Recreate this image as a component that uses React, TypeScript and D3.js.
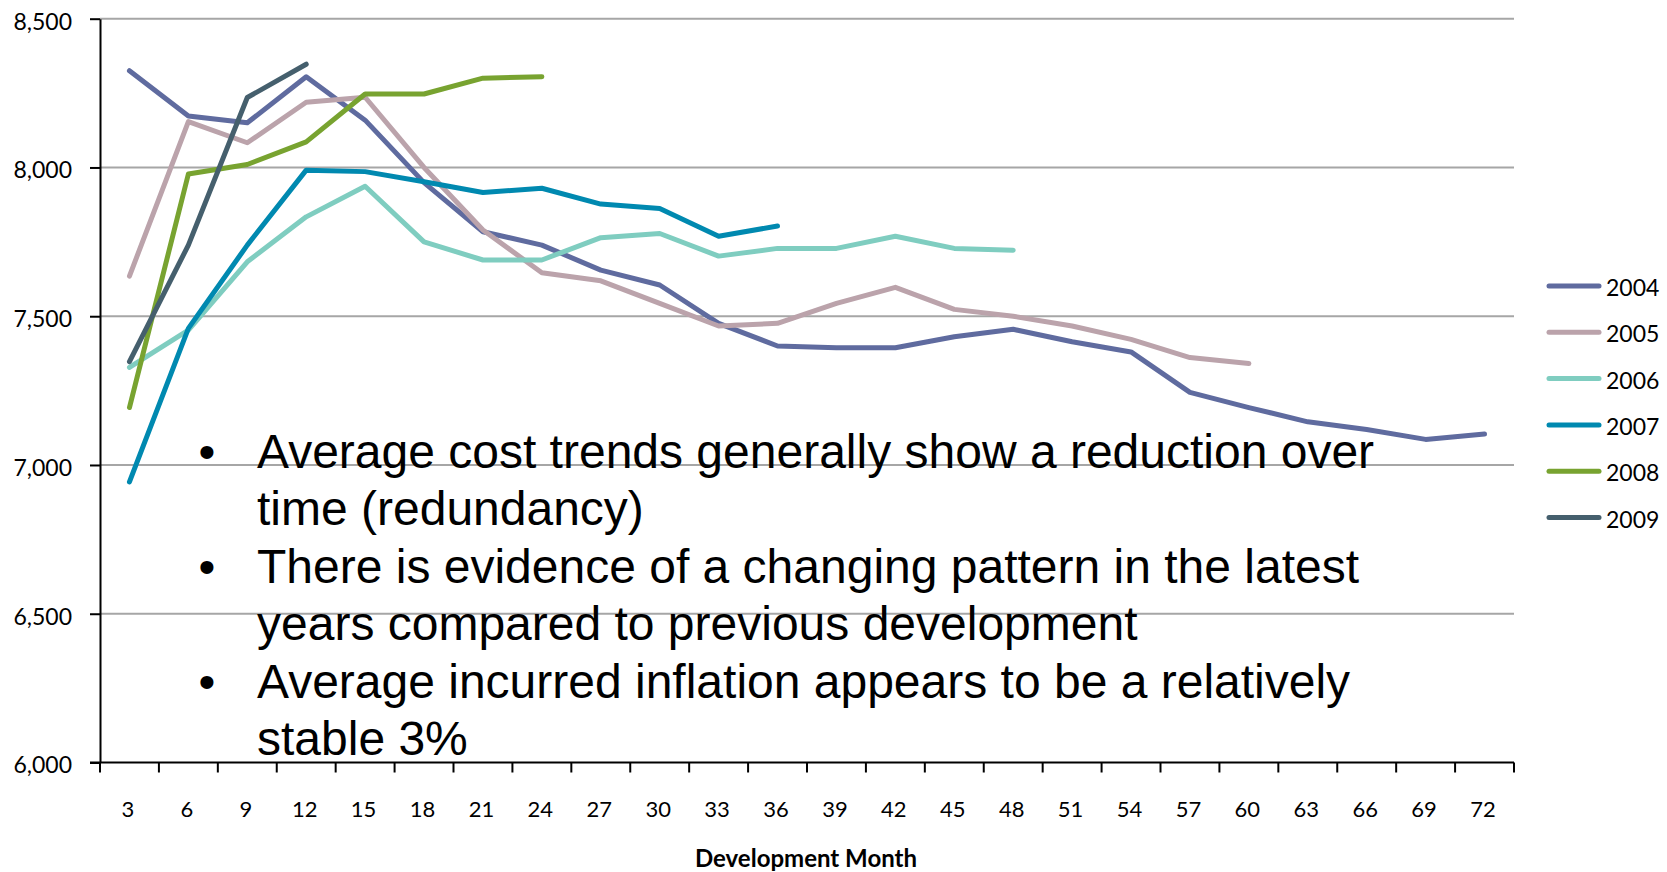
import React, { useEffect, useRef } from 'react';
import * as d3 from 'd3';

// development months on the x axis
const months = [3, 6, 9, 12, 15, 18, 21, 24, 27, 30, 33, 36, 39, 42, 45, 48, 51, 54, 57, 60, 63, 66, 69, 72];
const yTicks = [6000, 6500, 7000, 7500, 8000, 8500];

const years = ['2004', '2005', '2006', '2007', '2008', '2009'];
const colors = ['#5F6B9F', '#BBA3AB', '#7FCDC0', '#0089B0', '#78A330', '#455F6D'];

const v2004 = [8325, 8173, 8150, 8305, 8159, 7949, 7784, 7739, 7655, 7605, 7476, 7400, 7394, 7394, 7431, 7456, 7414, 7380, 7244, 7193, 7145, 7119, 7086, 7104];
const v2005 = [7635, 8154, 8083, 8219, 8236, 8000, 7790, 7646, 7619, 7543, 7467, 7476, 7543, 7597, 7523, 7500, 7467, 7422, 7361, 7341];
const v2006 = [7328, 7453, 7683, 7834, 7937, 7750, 7689, 7689, 7764, 7778, 7702, 7728, 7728, 7769, 7728, 7722];
const v2007 = [6943, 7459, 7739, 7991, 7986, 7952, 7916, 7930, 7877, 7862, 7769, 7803];
const v2008 = [7193, 7978, 8010, 8086, 8247, 8247, 8300, 8305];
const v2009 = [7347, 7739, 8235, 8347];

const seriesValues = [v2004, v2005, v2006, v2007, v2008, v2009];

const noteLines = [
  'Average cost trends generally show a reduction over',
  'time (redundancy)',
  'There is evidence of a changing pattern in the latest',
  'years compared to previous development',
  'Average incurred inflation appears to be a relatively',
  'stable 3%',
];
const noteBullets = [true, false, true, false, true, false];

const App: React.FC = () => {
  const svgRef = useRef<SVGSVGElement>(null);

  useEffect(() => {
    if (!svgRef.current) return;
    const svg = d3.select(svgRef.current);
    svg.selectAll('*').remove();

    const width = 1667;
    const height = 872;
    const plot = { left: 100, right: 1514, top: 18.7, bottom: 762.5 };
    const labelFont = 'Lato, "Open Sans", sans-serif';

    svg.attr('width', width).attr('height', height);

    const x = d3
      .scaleBand<number>()
      .domain(months)
      .range([plot.left, plot.right]);

    const y = d3
      .scaleLinear()
      .domain([6000, 8500])
      .range([plot.bottom, plot.top]);

    // gridlines
    svg
      .append('g')
      .selectAll('line')
      .data(yTicks.slice(1))
      .enter()
      .append('line')
      .attr('x1', plot.left)
      .attr('x2', plot.right)
      .attr('y1', d => y(d))
      .attr('y2', d => y(d))
      .attr('stroke', '#A6A6A6')
      .attr('stroke-width', 2);

    // y axis
    const yAxis = svg
      .append('g')
      .attr('transform', `translate(${plot.left},0)`)
      .call(
        d3
          .axisLeft(y)
          .tickValues(yTicks)
          .tickFormat(d3.format(','))
          .tickSize(10)
          .tickPadding(18)
          .tickSizeOuter(0)
      );
    yAxis.select('.domain').attr('stroke', '#000').attr('stroke-width', 2);
    yAxis.selectAll('.tick line').attr('stroke', '#000').attr('stroke-width', 2);
    yAxis
      .selectAll('.tick text')
      .attr('dy', '0.45em')
      .style('font-family', labelFont)
      .style('font-size', '23px')
      .attr('fill', '#000');

    // x axis line and ticks at band edges
    const xAxis = svg.append('g');
    xAxis
      .append('line')
      .attr('x1', plot.left - 10)
      .attr('x2', plot.right)
      .attr('y1', y(6000))
      .attr('y2', y(6000))
      .attr('stroke', '#000')
      .attr('stroke-width', 2);
    const edges = months.map(m => x(m) ?? 0).concat([plot.right]);
    xAxis
      .selectAll('line.tick')
      .data(edges)
      .enter()
      .append('line')
      .attr('class', 'tick')
      .attr('x1', d => d)
      .attr('x2', d => d)
      .attr('y1', y(6000))
      .attr('y2', y(6000) + 10)
      .attr('stroke', '#000')
      .attr('stroke-width', 2);
    xAxis
      .selectAll('text')
      .data(months)
      .enter()
      .append('text')
      .attr('x', d => (x(d) ?? 0) + x.bandwidth() / 2 - 1.5)
      .attr('y', 817)
      .attr('text-anchor', 'middle')
      .style('font-family', labelFont)
      .style('font-size', '22px')
      .attr('fill', '#000')
      .text(d => String(d));

    svg
      .append('text')
      .attr('x', 806)
      .attr('y', 867)
      .attr('text-anchor', 'middle')
      .style('font-family', labelFont)
      .style('font-size', '24px')
      .style('font-weight', 'bold')
      .attr('fill', '#000')
      .text('Development Month');

    // series lines, 2004 first so later years sit on top
    const line = d3
      .line<number>()
      .x((_, i) => (x(months[i]) ?? 0) + x.bandwidth() / 2)
      .y(d => y(d));

    svg
      .append('g')
      .selectAll('path')
      .data(seriesValues)
      .enter()
      .append('path')
      .attr('d', d => line(d) ?? '')
      .attr('fill', 'none')
      .attr('stroke', (_, i) => colors[i])
      .attr('stroke-width', 5)
      .attr('stroke-linejoin', 'round')
      .attr('stroke-linecap', 'round');

    // legend
    const legend = svg
      .append('g')
      .selectAll('g')
      .data(years)
      .enter()
      .append('g')
      .attr('transform', (_, i) => `translate(0,${286 + i * 46.3})`);
    legend
      .append('line')
      .attr('x1', 1549)
      .attr('x2', 1599)
      .attr('stroke', (_, i) => colors[i])
      .attr('stroke-width', 5)
      .attr('stroke-linecap', 'round');
    legend
      .append('text')
      .attr('x', 1606)
      .attr('y', 10)
      .style('font-family', labelFont)
      .style('font-size', '23px')
      .attr('fill', '#000')
      .text(d => d);

    // commentary text over the plot
    const notes = svg.append('g').style('font-family', '"Liberation Sans", Arial, sans-serif');
    noteLines.forEach((t, i) => {
      const baseline = 468 + i * 57.4;
      if (noteBullets[i]) {
        notes
          .append('text')
          .attr('x', 207)
          .attr('y', baseline)
          .attr('text-anchor', 'middle')
          .style('font-size', '48px')
          .attr('fill', '#000')
          .text('\u2022');
      }
      notes
        .append('text')
        .attr('x', 257)
        .attr('y', baseline)
        .style('font-size', '48px')
        .attr('fill', '#000')
        .text(t);
    });
  }, []);

  return <svg ref={svgRef} style={{ position: 'absolute', left: 0, top: 0, display: 'block' }}></svg>;
};

export default App;
